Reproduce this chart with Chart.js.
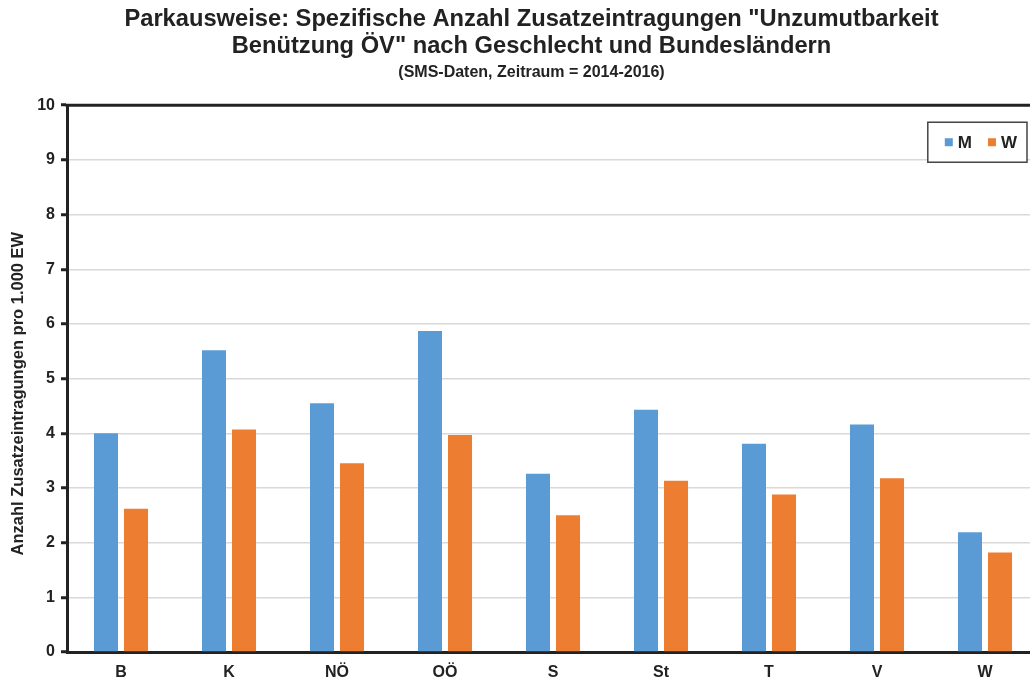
<!DOCTYPE html>
<html>
<head>
<meta charset="utf-8">
<script src="https://cdn.jsdelivr.net/npm/chart.js@4"></script>
<style>
  html, body { margin: 0; padding: 0; background: #fff; overflow: hidden; }
  #wrap { width: 1040px; height: 681px; }
</style>
</head>
<body>
<div id="wrap"><canvas id="chart" width="1040" height="681"></canvas></div>
<script>
// Bundesländer
CATEGORIES = ["B", "K", "NÖ", "OÖ", "S", "St", "T", "V", "W"]

// values (per 1.000 EW)
MALE = [4.00, 5.52, 4.55, 5.87, 3.26, 4.43, 3.81, 4.16, 2.19]
FEMALE = [2.62, 4.07, 3.45, 3.97, 2.50, 3.13, 2.88, 3.18, 1.82]

SERIES_LABELS = ["M", "W"]
Y_TICKS = [0, 1, 2, 3, 4, 5, 6, 7, 8, 9, 10]

TITLE_LINES = [
    'Parkausweise: Spezifische Anzahl Zusatzeintragungen "Unzumutbarkeit',
    'Benützung ÖV" nach Geschlecht und Bundesländern'
]
SUBTITLE = "(SMS-Daten, Zeitraum = 2014-2016)"
Y_TITLE = "Anzahl Zusatzeintragungen pro 1.000 EW"

BLUE = "#5b9bd5"
ORANGE = "#ed7d31"
FONT = "'Liberation Sans', Arial, sans-serif"

// top frame line of the plot box
var frameTop = {
    id: "frameTop",
    afterDraw(chart) {
        var ctx = chart.ctx, a = chart.chartArea
        ctx.save()
        ctx.strokeStyle = "#222"
        ctx.lineWidth = 3
        ctx.beginPath()
        ctx.moveTo(a.left - 1.5, a.top)
        ctx.lineTo(a.right, a.top)
        ctx.stroke()
        ctx.restore()
    }
}

// y axis title, sits a bit below the middle of the axis like in the original
var yTitle = {
    id: "yTitle",
    afterDraw(chart) {
        var ctx = chart.ctx, a = chart.chartArea
        ctx.save()
        ctx.translate(18, (a.top + a.bottom) / 2 + 15)
        ctx.rotate(-Math.PI / 2)
        ctx.font = "bold 16.5px " + FONT
        ctx.fillStyle = "#222"
        ctx.textAlign = "center"
        ctx.textBaseline = "middle"
        ctx.fillText(Y_TITLE, 0, 0)
        ctx.restore()
    }
}

// boxed legend inside the plot, top right
var boxLegend = {
    id: "boxLegend",
    afterDraw(chart) {
        var ctx = chart.ctx, a = chart.chartArea
        var right = a.right - 12, top = a.top + 17, h = 40
        ctx.save()
        ctx.font = "bold 17px " + FONT
        var items = chart.data.datasets.map(ds => ({ text: ds.label, color: ds.backgroundColor, w: ctx.measureText(ds.label).width }))
        var sq = 8, gapSq = 5, gapItem = 16, padL = 17, padR = 10
        var w = padL + padR
        items.forEach((it, i) => { w += sq + gapSq + it.w + (i ? gapItem : 0) })
        var left = right - w
        ctx.fillStyle = "#fff"
        ctx.fillRect(left, top, w, h)
        ctx.strokeStyle = "#444"
        ctx.lineWidth = 1.5
        ctx.strokeRect(left, top, w, h)
        var x = left + padL, cy = top + h / 2
        ctx.textBaseline = "middle"
        items.forEach((it, i) => {
            if (i) x += gapItem
            ctx.fillStyle = it.color
            ctx.fillRect(x, cy - sq / 2, sq, sq)
            x += sq + gapSq
            ctx.fillStyle = "#222"
            ctx.fillText(it.text, x, cy + 1)
            x += it.w
        })
        ctx.restore()
    }
}

new Chart("chart", {
    type: "bar",
    data: {
        labels: CATEGORIES,
        datasets: [
            { label: SERIES_LABELS[0], data: MALE, backgroundColor: BLUE },
            { label: SERIES_LABELS[1], data: FEMALE, backgroundColor: ORANGE }
        ]
    },
    options: {
        responsive: false,
        animation: false,
        layout: { padding: { left: 24, right: 1, top: 0, bottom: 0 } },
        datasets: { bar: { categoryPercentage: 0.556, barPercentage: 0.8 } },
        plugins: {
            legend: { display: false },
            tooltip: { enabled: false },
            title: {
                display: true,
                text: TITLE_LINES,
                color: "#222",
                font: { family: FONT, size: 23.7, weight: "bold", lineHeight: 1.14 },
                padding: { top: 6, bottom: 0 }
            },
            subtitle: {
                display: true,
                text: SUBTITLE,
                color: "#222",
                font: { family: FONT, size: 16, weight: "bold", lineHeight: 1.2 },
                padding: { top: 3, bottom: 23 }
            }
        },
        scales: {
            x: {
                afterFit: s => { s.height = 29 },
                grid: { display: false, drawTicks: false },
                border: { color: "#222", width: 3 },
                ticks: { color: "#222", font: { family: FONT, size: 16, weight: "bold" }, padding: 11 }
            },
            y: {
                min: 0,
                max: 10,
                afterBuildTicks: s => { s.ticks = Y_TICKS.map(v => ({ value: v })) },
                afterFit: s => { s.width = 43 },
                grid: { color: "#d9d9d9", lineWidth: 1.5, tickColor: "#222", tickLength: 6, tickWidth: 3 },
                border: { color: "#222", width: 3 },
                ticks: { color: "#222", font: { family: FONT, size: 16, weight: "bold" }, padding: 6 }
            }
        }
    },
    plugins: [frameTop, yTitle, boxLegend]
})
</script>
</body>
</html>
